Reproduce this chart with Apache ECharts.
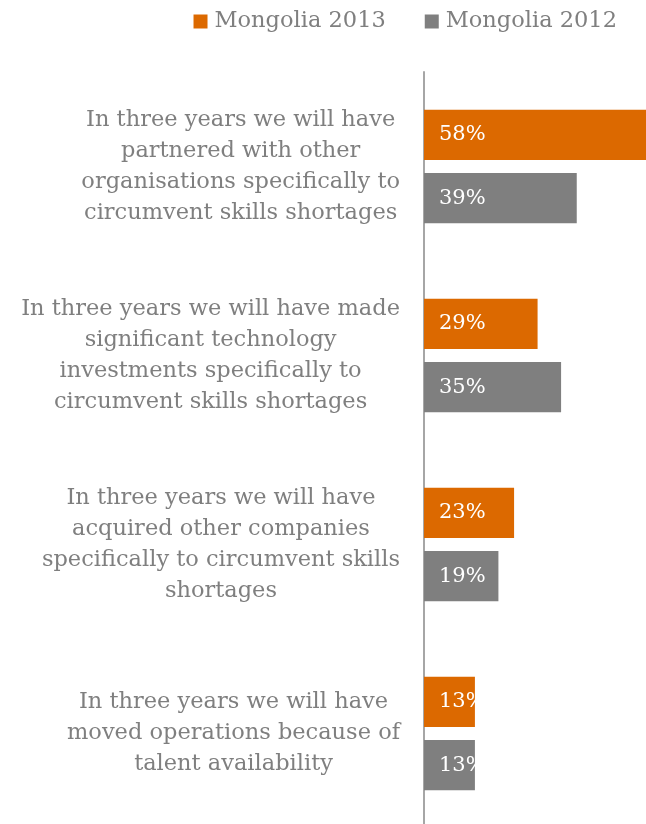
<!DOCTYPE html>
<html>
<head>
<meta charset="utf-8">
<script src="https://cdn.jsdelivr.net/npm/echarts@6/dist/echarts.min.js"></script>
<style>
  html, body { margin: 0; padding: 0; background: #ffffff; }
  #chart { width: 646px; height: 824px; }
</style>
</head>
<body>
<div id="chart"></div>
<script>
// Survey statements (one per category row)
const categories = [
  'In three years we will have\npartnered with other\norganisations specifically to\ncircumvent skills shortages',
  'In three years we will have made\nsignificant technology\ninvestments specifically to\ncircumvent skills shortages',
  'In three years we will have\nacquired other companies\nspecifically to circumvent skills\nshortages',
  'In three years we will have\nmoved operations because of\ntalent availability'
];
const seriesNames = ['Mongolia 2013', 'Mongolia 2012'];
const values2013 = [58, 29, 23, 13];
const values2012 = [39, 35, 19, 13];

const ORANGE = '#dc6900';
const GREY = '#7f7f7f';
const FONT = 'DejaVu Serif';

const chart = echarts.init(document.getElementById('chart'), null, { renderer: 'canvas' });

const barLabel = {
  show: true,
  position: 'insideLeft',
  distance: 15,
  color: '#ffffff',
  fontFamily: FONT,
  fontSize: 21,
  formatter: p => p.value + '%'
};

chart.setOption({
  animation: false,
  backgroundColor: '#ffffff',
  legend: {
    top: 5,
    right: 24,
    itemWidth: 14,
    itemHeight: 14,
    itemGap: 39,
    icon: 'rect',
    textStyle: { color: GREY, fontFamily: FONT, fontSize: 22.5, padding: [0, 0, 0, 2] },
    data: seriesNames
  },
  grid: { left: 424, top: 72, width: 235, height: 756, outerBoundsMode: 'none', containLabel: false },
  xAxis: {
    type: 'value',
    min: 0,
    max: 60,
    show: false
  },
  yAxis: {
    type: 'category',
    inverse: true,
    data: categories,
    axisLine: { show: true, lineStyle: { color: '#a6a6a6', width: 2 } },
    axisTick: { show: false },
    splitLine: { show: false },
    axisLabel: {
      margin: 24,
      align: 'right',
      formatter: v => '{c|' + v + '}',
      rich: {
        c: {
          align: 'center',
          color: GREY,
          fontFamily: FONT,
          fontSize: 22.5,
          lineHeight: 31
        }
      }
    }
  },
  series: [
    {
      name: seriesNames[0],
      type: 'bar',
      data: values2013,
      itemStyle: { color: ORANGE },
      barCategoryGap: '40%',
      barGap: '26%',
      label: barLabel
    },
    {
      name: seriesNames[1],
      type: 'bar',
      data: values2012,
      itemStyle: { color: GREY },
      label: barLabel
    }
  ]
});
</script>
</body>
</html>
